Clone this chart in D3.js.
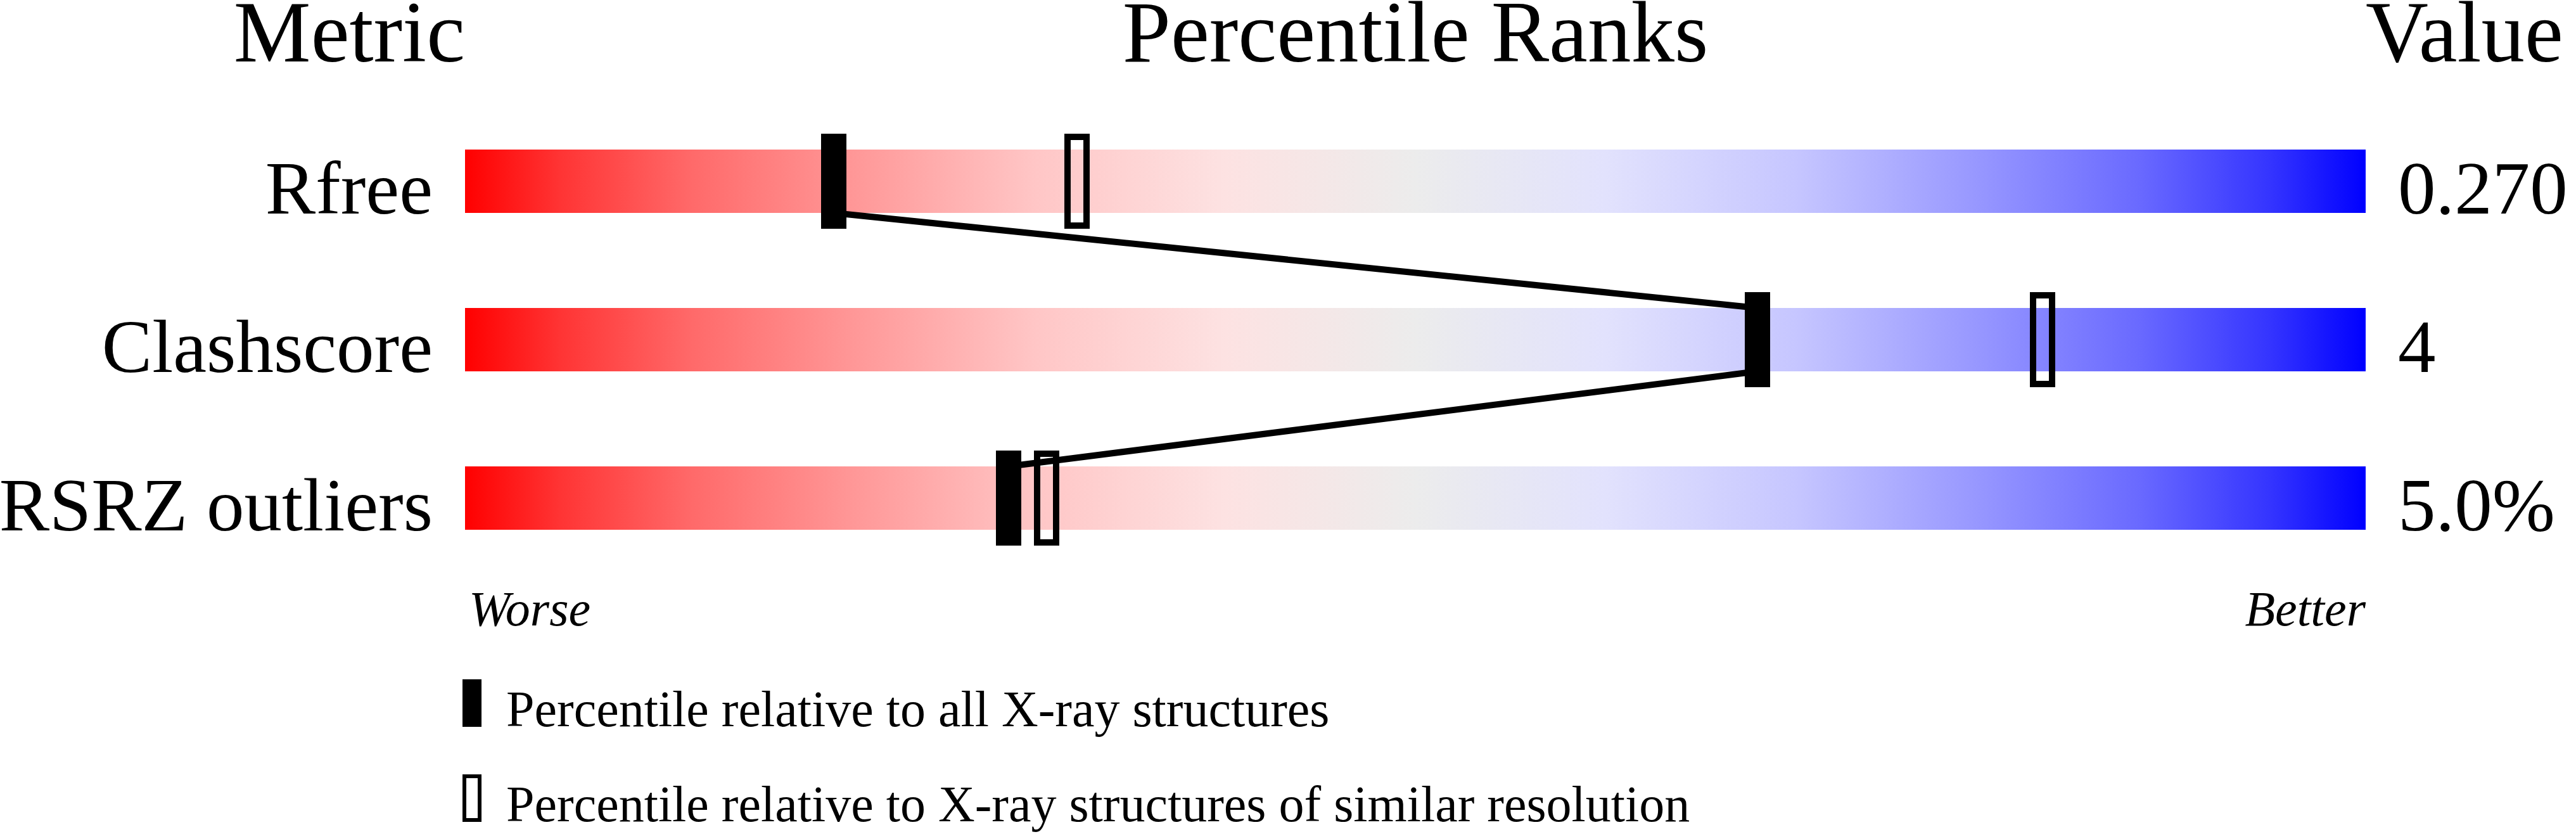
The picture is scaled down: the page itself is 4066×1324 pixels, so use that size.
<!DOCTYPE html>
<html>
<head>
<meta charset="utf-8">
<script src="https://cdn.jsdelivr.net/npm/d3@7"></script>
<style>
  body { margin: 0; background: #fff; }
  svg { display: block; font-family: "Liberation Serif", "Times New Roman", serif; }
</style>
</head>
<body>
<svg id="chart" width="4066" height="1324"></svg>
<script>
// --- data ---
const metrics = ["Rfree", "Clashscore", "RSRZ outliers"];
const values = ["0.270", "4", "5.0%"];
const pctAll = [19.4, 68, 28.6]; // percentile vs all X-ray structures
const pctSimilar = [32.2, 83, 30.6]; // percentile vs similar resolution
const legendLabels = [
  "Percentile relative to all X-ray structures",
  "Percentile relative to X-ray structures of similar resolution",
];
// colour ramp of the slider, worse -> better
const rampOffsets = [0, 0.05, 0.12, 0.2, 0.3, 0.4, 0.5, 0.6, 0.7, 0.8, 0.88, 0.95, 1];
const rampColors = [
  "#ff0000", "#ff3434", "#ff6a6a", "#ff9595", "#ffc6c6", "#fde2e2", "#ececec",
  "#e2e2fd", "#c6c6ff", "#9595ff", "#6a6aff", "#3434ff", "#0000ff",
];

const svg = d3.select("#chart");

const barLeft = 734;
const barRight = 3734;
const barH = 100;
const markW = 40;
const markH = 150;

const x = d3.scaleLinear().domain([0, 100]).range([barLeft, barRight]);
const y = d3.scalePoint().domain(metrics).range([236, 736]);

// gradient
const grad = svg
  .append("defs")
  .append("linearGradient")
  .attr("id", "ramp")
  .attr("x1", "0%")
  .attr("x2", "100%");
grad
  .selectAll("stop")
  .data(rampOffsets)
  .enter()
  .append("stop")
  .attr("offset", (d) => d)
  .attr("stop-color", (d, i) => rampColors[i]);

// headers
const headers = [
  { text: "Metric", x: barLeft, anchor: "end" },
  { text: "Percentile Ranks", x: (barLeft + barRight) / 2, anchor: "middle" },
  { text: "Value", x: barRight, anchor: "start" },
];
svg
  .append("g")
  .selectAll("text")
  .data(headers)
  .enter()
  .append("text")
  .attr("x", (d) => d.x)
  .attr("y", 97)
  .attr("text-anchor", (d) => d.anchor)
  .attr("font-size", 137)
  .text((d) => d.text);

// bars
svg
  .append("g")
  .selectAll("rect")
  .data(metrics)
  .enter()
  .append("rect")
  .attr("x", x(0))
  .attr("y", (d) => y(d))
  .attr("width", x(100) - x(0))
  .attr("height", barH)
  .attr("fill", "url(#ramp)");

// row labels + values
svg
  .append("g")
  .selectAll("text")
  .data(metrics)
  .enter()
  .append("text")
  .attr("x", barLeft - 51)
  .attr("y", (d) => y(d) + barH + 1)
  .attr("text-anchor", "end")
  .attr("font-size", 119)
  .text((d) => d);

svg
  .append("g")
  .selectAll("text")
  .data(values)
  .enter()
  .append("text")
  .attr("x", barRight + 51)
  .attr("y", (d, i) => y(metrics[i]) + barH + 1)
  .attr("font-size", 119)
  .text((d) => d);

// connecting line through the "all structures" markers
const segs = d3.range(metrics.length - 1).map((i) => ({
  x1: x(pctAll[i]),
  y1: y(metrics[i]) + barH,
  x2: x(pctAll[i + 1]),
  y2: y(metrics[i + 1]),
}));
svg
  .append("g")
  .selectAll("line")
  .data(segs)
  .enter()
  .append("line")
  .attr("x1", (d) => d.x1)
  .attr("y1", (d) => d.y1)
  .attr("x2", (d) => d.x2)
  .attr("y2", (d) => d.y2)
  .attr("stroke", "#000")
  .attr("stroke-width", 10);

// markers
svg
  .append("g")
  .selectAll("rect")
  .data(pctAll)
  .enter()
  .append("rect")
  .attr("x", (d) => x(d) - markW / 2)
  .attr("y", (d, i) => y(metrics[i]) - (markH - barH) / 2)
  .attr("width", markW)
  .attr("height", markH)
  .attr("fill", "#000");

svg
  .append("g")
  .selectAll("rect")
  .data(pctSimilar)
  .enter()
  .append("rect")
  .attr("x", (d) => x(d) - markW / 2 + 5)
  .attr("y", (d, i) => y(metrics[i]) - (markH - barH) / 2 + 5)
  .attr("width", markW - 10)
  .attr("height", markH - 10)
  .attr("fill", "none")
  .attr("stroke", "#000")
  .attr("stroke-width", 10);

// worse / better
svg
  .append("text")
  .attr("x", barLeft + 6)
  .attr("y", 987)
  .attr("font-size", 78)
  .attr("font-style", "italic")
  .text("Worse");
svg
  .append("text")
  .attr("x", barRight)
  .attr("y", 987)
  .attr("text-anchor", "end")
  .attr("font-size", 78)
  .attr("font-style", "italic")
  .text("Better");

// legend
const legend = svg
  .append("g")
  .selectAll("g")
  .data(legendLabels)
  .enter()
  .append("g")
  .attr("transform", (d, i) => `translate(730,${1072 + i * 150})`);

legend
  .append("rect")
  .attr("x", (d, i) => (i === 0 ? 0 : 3))
  .attr("y", (d, i) => (i === 0 ? 0 : 3))
  .attr("width", (d, i) => (i === 0 ? 30 : 24))
  .attr("height", (d, i) => (i === 0 ? 75 : 69))
  .attr("fill", (d, i) => (i === 0 ? "#000" : "none"))
  .attr("stroke", (d, i) => (i === 0 ? "none" : "#000"))
  .attr("stroke-width", 6);

legend
  .append("text")
  .attr("x", 69)
  .attr("y", 74)
  .attr("font-size", 80)
  .text((d) => d);
</script>
</body>
</html>
